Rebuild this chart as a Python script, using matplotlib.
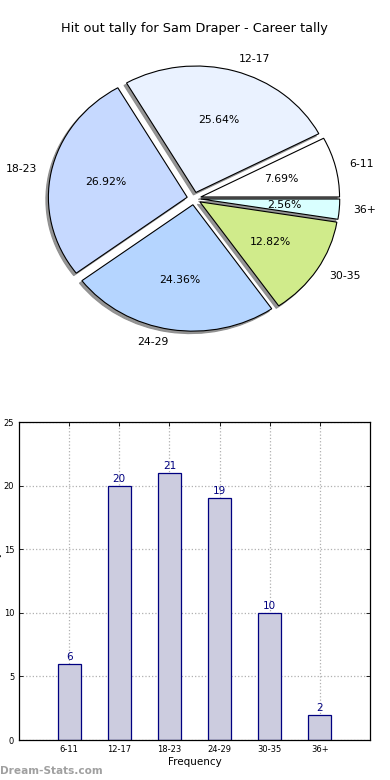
import matplotlib
matplotlib.use("Agg")
import matplotlib.pyplot as plt
import numpy as np

categories = ["6-11", "12-17", "18-23", "24-29", "30-35", "36+"]
counts = [6, 20, 21, 19, 10, 2]
pie_colors = ["#ffffff", "#eaf2ff", "#c6d9ff", "#b5d5ff", "#d0eb8b", "#d9ffff"]
explode = [0.05, 0.05, 0.05, 0.05, 0.05, 0.05]
title = "Hit out tally for Sam Draper - Career tally"

fig = plt.figure(figsize=(3.9, 7.8), dpi=100)

# Pie
axp = fig.add_axes([20.5/390, 1 - 356.5/780, 347/390, 316/780])
wedges, texts, autotexts = axp.pie(counts, labels=categories, colors=pie_colors,
                                   explode=explode, autopct="%.2f%%",
                                   shadow=dict(ox=-0.013, oy=-0.014, facecolor="#8a8a8a",
                                               edgecolor="#8a8a8a", alpha=0.9),
                                   startangle=0, labeldistance=1.1, pctdistance=0.6,
                                   wedgeprops=dict(edgecolor="black", linewidth=0.8),
                                   textprops=dict(fontsize=7.8))
axp.set_aspect("auto")
axp.set_xlim(-1.25, 1.25)
axp.set_ylim(-1.25, 1.25)
axp.set_title(title, fontsize=9.3, pad=6)

# Bar
axb = fig.add_axes([19/390, 1 - 740/780, 351/390, 318/780])
x = np.arange(1, len(categories) + 1)
bars = axb.bar(x, counts, width=0.46, color="#ccccdf", edgecolor="#000080", linewidth=0.9, zorder=2)
for xi, c in zip(x, counts):
    axb.text(xi, c + 0.15, str(c), ha="center", va="bottom", color="#000080", fontsize=7.5, zorder=3)
axb.set_xlim(0, 7)
axb.set_ylim(0, 25)
axb.set_xticks(x)
axb.set_xticklabels(categories)
axb.set_yticks([0, 5, 10, 15, 20, 25])
axb.tick_params(direction="in", top=True, right=True, labelsize=6, length=3, width=0.6)
axb.grid(True, linestyle=":", color="#b0b0b0", linewidth=0.9, zorder=0)
axb.set_axisbelow(True)
axb.set_xlabel("Frequency", fontsize=7.5, labelpad=2)
fig.text(-0.02, 1 - 581/780, "Hit out tally", rotation=90, fontsize=7.5,
         ha="left", va="center")
for s in axb.spines.values():
    s.set_linewidth(0.9)

fig.text(0.0, 1 - 771/780, "Dream-Stats.com", fontsize=7.6, color="#a0a0a0",
         fontweight="bold", ha="left", va="center")

fig.savefig("out.png", dpi=100)
